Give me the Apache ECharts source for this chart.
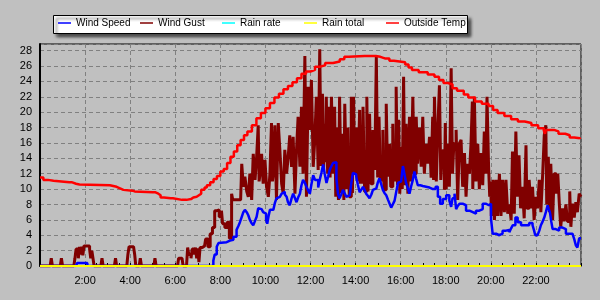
<!DOCTYPE html>
<html><head><meta charset="utf-8">
<script src="https://cdn.jsdelivr.net/npm/echarts@6/dist/echarts.min.js"></script>
<style>html,body{margin:0;padding:0;background:#c0c0c0;}#c{width:600px;height:300px;}</style>
</head><body><div id="c"></div>
<script>
const seriesNames = ['Wind Speed','Wind Gust','Rain rate','Rain total','Outside Temp'];
const xTickHours = [0,2,4,6,8,10,12,14,16,18,20,22,24];
const yTicks = [0,2,4,6,8,10,12,14,16,18,20,22,24,26,28];

// [hour, value]
const windSpeed = [[0,0],[1.6,0],[1.65,0.4],[1.8,0.3],[1.85,0.4],[2.1,0],[7.54,0],[7.69,0.7],[7.75,1.5],[7.84,2.5],[7.92,3.0],[7.99,3.1],[8.28,3.3],[8.43,3.4],[8.58,3.8],[8.72,4.7],[8.8,5.2],[8.87,5.7],[8.95,6.4],[9.02,7],[9.09,7.3],[9.17,7.0],[9.24,6.6],[9.31,6],[9.38,5.6],[9.46,5.3],[9.53,5.8],[9.61,6.4],[9.68,7.5],[9.75,7.4],[9.83,7.3],[9.9,7.0],[9.98,6.8],[10.03,6],[10.08,5.5],[10.14,6.5],[10.2,7.3],[10.35,7.5],[10.42,8.2],[10.49,8.8],[10.57,9.0],[10.64,9.2],[10.72,9.4],[10.79,9.65],[10.86,9.3],[10.94,9],[11.0,8.3],[11.08,7.9],[11.16,8.8],[11.23,9.4],[11.3,8.9],[11.38,8.3],[11.45,8.9],[11.53,9.4],[11.6,10.5],[11.67,11.2],[11.75,10.8],[11.82,10.3],[11.9,9.8],[11.97,9.4],[12.04,10.6],[12.12,11.8],[12.2,11.2],[12.26,11.2],[12.34,10.2],[12.41,11.2],[12.49,12.2],[12.56,13.2],[12.63,12],[12.71,10.8],[12.78,11.6],[12.85,12.5],[12.93,13.0],[13.0,13.4],[13.07,13.5],[13.15,11.4],[13.22,9.4],[13.29,8.8],[13.36,9.3],[13.44,9.9],[13.51,9.5],[13.59,9],[13.66,9.2],[13.74,9.4],[13.81,10.8],[13.88,12.1],[13.95,11.9],[14.03,11.6],[14.1,10.6],[14.18,9.6],[14.25,9.9],[14.33,10.3],[14.4,9.9],[14.47,9.4],[14.55,9.1],[14.62,8.8],[14.7,9.3],[14.77,9.9],[14.85,10.1],[14.92,10.3],[14.99,10.9],[15.06,11.4],[15.14,10.6],[15.21,9.9],[15.28,9.5],[15.36,9.2],[15.44,8.6],[15.51,8.1],[15.58,7.6],[15.65,8.0],[15.73,8.5],[15.8,9.6],[15.88,10.8],[15.95,11.0],[16.02,11.2],[16.1,13],[16.17,11.9],[16.24,10.8],[16.32,10.1],[16.39,9.4],[16.46,10.3],[16.54,11.2],[16.61,12.3],[16.68,11.4],[16.76,10.5],[16.87,10.4],[16.98,10.3],[17.13,10.2],[17.28,10.0],[17.43,10],[17.55,10.3],[17.65,9],[17.75,8.1],[17.87,8.7],[18.02,9.2],[18.16,8.5],[18.24,7.7],[18.3,8.8],[18.39,9.4],[18.46,7.4],[18.53,7.8],[18.61,8.1],[18.75,7.9],[18.9,7.2],[19.05,7],[19.2,6.8],[19.34,7.2],[19.49,7.4],[19.64,8.1],[19.79,7.9],[19.91,8.1],[20.01,6.1],[20.08,4.2],[20.23,4.4],[20.3,4.0],[20.38,3.8],[20.45,4.2],[20.52,4.6],[20.67,4.7],[20.82,4.4],[20.9,4.9],[20.97,5.3],[21.09,6.3],[21.19,5.7],[21.34,5.3],[21.56,5.3],[21.7,5.6],[21.85,5.3],[21.92,4.6],[21.97,4],[22.07,4],[22.15,4.6],[22.22,5.3],[22.3,5.8],[22.37,6.3],[22.45,7.1],[22.52,7.9],[22.57,7.4],[22.62,7],[22.68,5.8],[22.74,4.8],[22.88,4.6],[23.03,5],[23.18,4.8],[23.33,4.2],[23.47,4.2],[23.62,4.4],[23.7,3.5],[23.77,2.7],[23.84,2.4],[23.92,3.6],[24,3.6]];

const windGust = [[0,0],[0.45,0],[0.5,1],[0.55,0],[0.9,0],[0.95,1],[1.0,0],[1.5,0],[1.55,1],[1.6,2.2],[1.7,1],[1.75,2.5],[1.8,1.5],[1.85,2.5],[1.9,1.4],[1.95,2.6],[2.1,2.6],[2.2,2.2],[2.25,1],[2.3,2],[2.35,1],[2.4,0],[2.7,0],[2.75,1],[2.8,0],[3.3,0],[3.35,1],[3.4,0],[3.85,0],[3.9,1.5],[3.95,2.5],[4.15,2.5],[4.2,1.5],[4.25,0],[4.4,0],[4.45,1],[4.5,0],[5.05,0],[5.1,1],[5.15,0],[6.1,0],[6.15,1],[6.3,1],[6.35,0],[6.5,0],[6.55,2.4],[6.6,1.5],[6.7,1],[6.75,2.2],[6.85,1.5],[6.9,2.4],[6.95,1],[7.0,2.3],[7.05,0.5],[7.1,2.4],[7.2,2.6],[7.3,2.5],[7.35,3.5],[7.45,2.5],[7.55,4.2],[7.65,5],[7.75,7.2],[7.85,7.3],[7.95,6.4],[8.05,7.2],[8.1,5.5],[8.2,5],[8.3,5.7],[8.4,3.6],[8.5,9.4],[8.55,8.6],[8.9,8.6],[8.95,13.3],[9.02,10.3],[9.09,11.6],[9.17,9.7],[9.24,9],[9.31,12],[9.39,8.6],[9.46,14.6],[9.54,11.2],[9.61,14.2],[9.68,18.3],[9.72,11],[9.76,12],[9.83,14.6],[9.9,10.7],[9.98,13.8],[10.05,10.3],[10.13,9],[10.2,12],[10.27,18.6],[10.31,11],[10.35,12],[10.42,18.3],[10.49,8.6],[10.57,18.6],[10.64,15.1],[10.72,10.7],[10.79,9.4],[10.86,15.1],[10.94,12],[11.01,14.2],[11.08,17],[11.16,12.9],[11.23,16.8],[11.31,9.4],[11.38,15.1],[11.45,19.4],[11.53,12.9],[11.6,20.7],[11.67,12],[11.75,27.3],[11.82,9],[11.9,23.3],[11.97,17.7],[12.04,24.2],[12.12,12.9],[12.19,16.4],[12.26,22],[12.34,12.5],[12.41,28.2],[12.47,13],[12.53,22.4],[12.58,12.5],[12.63,18.5],[12.67,13.5],[12.7,22],[12.76,12],[12.82,20.7],[12.87,11.5],[12.93,22],[13.0,12],[13.07,20.7],[13.12,9],[13.18,18],[13.24,8.6],[13.29,22],[13.36,9.5],[13.44,17.2],[13.48,8.6],[13.52,21.1],[13.6,10],[13.66,18],[13.72,9],[13.81,22],[13.86,9.5],[13.91,22],[13.96,12],[14.03,18],[14.1,11],[14.18,20.3],[14.21,10.7],[14.25,17.2],[14.29,10.7],[14.33,20.7],[14.4,9.7],[14.5,22],[14.55,9.7],[14.62,19.8],[14.68,10.7],[14.77,17.7],[14.85,12.5],[14.92,27.2],[14.98,11.5],[15.04,19.4],[15.1,11.2],[15.21,17.7],[15.26,9.9],[15.36,21.1],[15.42,11.8],[15.51,15.9],[15.56,10.3],[15.65,18.5],[15.7,11.2],[15.8,23.3],[15.86,10.5],[15.91,19],[15.96,9.4],[16.02,15.5],[16.07,10],[16.13,24.6],[16.18,10.5],[16.24,18.5],[16.32,9.4],[16.39,19.4],[16.46,11],[16.54,22],[16.6,12],[16.69,19.4],[16.75,13.3],[16.83,18],[16.91,12.9],[16.98,19.4],[17.05,12],[17.13,15.9],[17.2,13.3],[17.28,16.8],[17.35,11.5],[17.42,19.4],[17.46,11.2],[17.5,22],[17.58,11],[17.65,18],[17.72,23.5],[17.78,11.2],[17.85,15],[17.94,9.9],[17.98,18.6],[18.02,10],[18.09,15.9],[18.16,10.3],[18.24,25.7],[18.3,12],[18.36,15.9],[18.46,17.7],[18.53,8.6],[18.6,15.9],[18.68,16.4],[18.75,10.3],[18.83,14.7],[18.9,9],[18.97,13.3],[19.05,12],[19.12,15.9],[19.18,21.4],[19.2,10],[19.27,22],[19.34,11],[19.42,15.9],[19.49,10],[19.56,14.7],[19.64,10.5],[19.71,17.5],[19.78,12],[19.83,22],[19.9,12.9],[19.95,9],[20.0,11],[20.02,6.5],[20.1,11.2],[20.16,6],[20.24,11.2],[20.3,6.5],[20.38,12],[20.45,6.5],[20.52,11.2],[20.6,7],[20.67,11.2],[20.75,6.8],[20.82,8],[20.9,6],[20.96,14.9],[21.04,6.8],[21.11,17.5],[21.18,9],[21.25,14.4],[21.32,7.5],[21.4,10.3],[21.48,6.2],[21.56,15.7],[21.6,7.5],[21.7,11.2],[21.78,7.5],[21.85,10.3],[21.92,6],[22.0,9],[22.07,7.5],[22.15,11.2],[22.22,7],[22.3,12],[22.37,17],[22.44,18.3],[22.48,8],[22.55,14.2],[22.6,7],[22.66,13.3],[22.74,6],[22.81,12],[22.9,9.4],[22.97,12],[23.04,8],[23.1,5.1],[23.18,7.5],[23.25,5.8],[23.33,8],[23.4,5.8],[23.5,9.7],[23.55,5.1],[23.62,8.1],[23.7,6.3],[23.77,8.3],[23.84,7],[23.92,9.4],[24,9]];

const rainRate = [[0,0],[24,0]];
const rainTotal = [[0,0],[24,0]];

const outsideTemp = [[0,11.5],[0.15,11.2],[0.35,11.1],[0.6,10.9],[1.3,10.9],[1.4,10.7],[1.6,10.6],[1.75,10.7],[1.8,10.5],[3.1,10.5],[3.15,10.3],[3.4,10.1],[3.55,9.9],[3.7,9.8],[4.1,9.7],[4.2,9.6],[5.0,9.6],[5.1,9.4],[5.25,9.2],[5.35,8.9],[5.5,8.8],[5.8,8.8],[5.9,8.6],[6.3,8.6],[6.5,8.7],[6.7,8.9],[6.8,9.0],[6.95,9.2],[7.05,9.4],[7.15,9.9],[7.3,10.2],[7.4,10.5],[7.55,10.9],[7.7,11.3],[7.85,11.7],[8.0,12.3],[8.15,12.6],[8.3,13.4],[8.45,14.2],[8.6,14.9],[8.75,15.7],[8.9,16.4],[9.05,17.0],[9.2,17.5],[9.4,18.3],[9.6,19.2],[9.8,19.9],[10.0,20.5],[10.2,21.2],[10.4,21.9],[10.6,22.4],[10.8,23.0],[11.0,23.4],[11.2,23.9],[11.4,24.4],[11.6,25.0],[11.8,25.3],[12.0,25.5],[12.2,25.9],[12.4,26.1],[12.65,26.4],[13.0,26.6],[13.3,26.9],[13.5,27.2],[13.7,27.3],[14.4,27.3],[14.9,27.2],[15.1,27.0],[15.3,27.0],[15.5,26.7],[15.7,26.5],[16.2,26.2],[16.35,25.8],[16.5,25.5],[16.8,25.2],[17.2,24.9],[17.5,24.6],[17.7,24.2],[17.9,23.8],[18.1,23.6],[18.3,23.1],[18.5,22.8],[18.8,22.3],[19.0,21.9],[19.3,21.4],[19.6,21.1],[19.9,20.8],[20.1,20.3],[20.3,19.9],[20.6,19.5],[20.9,19.1],[21.2,18.8],[21.5,18.6],[21.8,18.3],[22.1,17.9],[22.35,17.6],[22.4,17.2],[22.45,17.7],[22.8,17.5],[23.0,17.2],[23.3,17.0],[23.5,16.7],[23.7,16.6],[23.95,16.5]];

const colors = ['#0000ff','#800000','#00ffff','#ffff00','#ff0000'];
const legendLefts = [58,140,222,304,386];
const FONT = 'Liberation Sans';

const chart = echarts.init(document.getElementById('c'), null, {renderer:'canvas'});
const dataSets = [windSpeed, windGust, rainRate, rainTotal, outsideTemp];
const widths = [2.5, 3, 1.5, 2, 2.5];
const zs = [3, 2, 4, 5, 6];

chart.setOption({
  animation: false,
  backgroundColor: '#c0c0c0',
  color: colors,
  graphic: [{
    type: 'rect', z: 0,
    shape: {x: 53.5, y: 15.5, width: 414, height: 18},
    style: {fill: '#ffffff', stroke: '#000000', lineWidth: 1,
      shadowColor: 'rgba(0,0,0,0.65)', shadowBlur: 3, shadowOffsetX: 3, shadowOffsetY: 3}
  }],
  legend: seriesNames.map((n, i) => ({
    data: [n], left: legendLefts[i], top: 18, padding: 0,
    icon: 'rect', itemWidth: 13, itemHeight: 1.5, itemGap: 0,
    textStyle: {color: '#000', fontSize: 10, fontFamily: FONT, padding: [0,0,0,0]},
    selectedMode: false
  })),
  grid: {left: 40, right: 19, top: 44, bottom: 34, show: true, borderColor: '#000', borderWidth: 1, backgroundColor: 'transparent'},
  xAxis: {
    type: 'value', min: xTickHours[0], max: xTickHours[xTickHours.length-1], interval: 2,
    axisLine: {show: true, lineStyle: {color: '#000', width: 1}},
    axisTick: {show: true, inside: true, length: 3, lineStyle: {color: '#000'}},
    minorTick: {show: true, splitNumber: 4, length: 3, lineStyle: {color: '#000'}},
    axisLabel: {showMinLabel: false, showMaxLabel: false, color: '#000', fontSize: 11, fontFamily: FONT, margin: 9,
      formatter: v => (xTickHours.indexOf(v) > 0 && v < 24) ? v + ':00' : ''},
    splitLine: {show: true, lineStyle: {color: '#808080', type: [4,3], width: 1}}
  },
  yAxis: {
    type: 'value', min: yTicks[0], max: 28.87, interval: 2,
    axisLine: {show: true, lineStyle: {color: '#000', width: 2}},
    axisTick: {show: false},
    axisLabel: {showMaxLabel: false, color: '#000', fontSize: 11, fontFamily: FONT, margin: 8,
      formatter: v => yTicks.indexOf(v) >= 0 ? String(v) : ''},
    splitLine: {show: true, lineStyle: {color: '#808080', type: [4,3], width: 1}}
  },
  series: seriesNames.map((n, i) => ({
    name: n, type: 'line', step: 'end', data: dataSets[i], symbol: 'none', showSymbol: false,
    clip: i === 2 || i === 3 ? false : true,
    z: zs[i], lineStyle: {color: colors[i], width: widths[i]}, itemStyle: {color: colors[i]},
    emphasis: {disabled: true}
  }))
});
</script></body></html>
